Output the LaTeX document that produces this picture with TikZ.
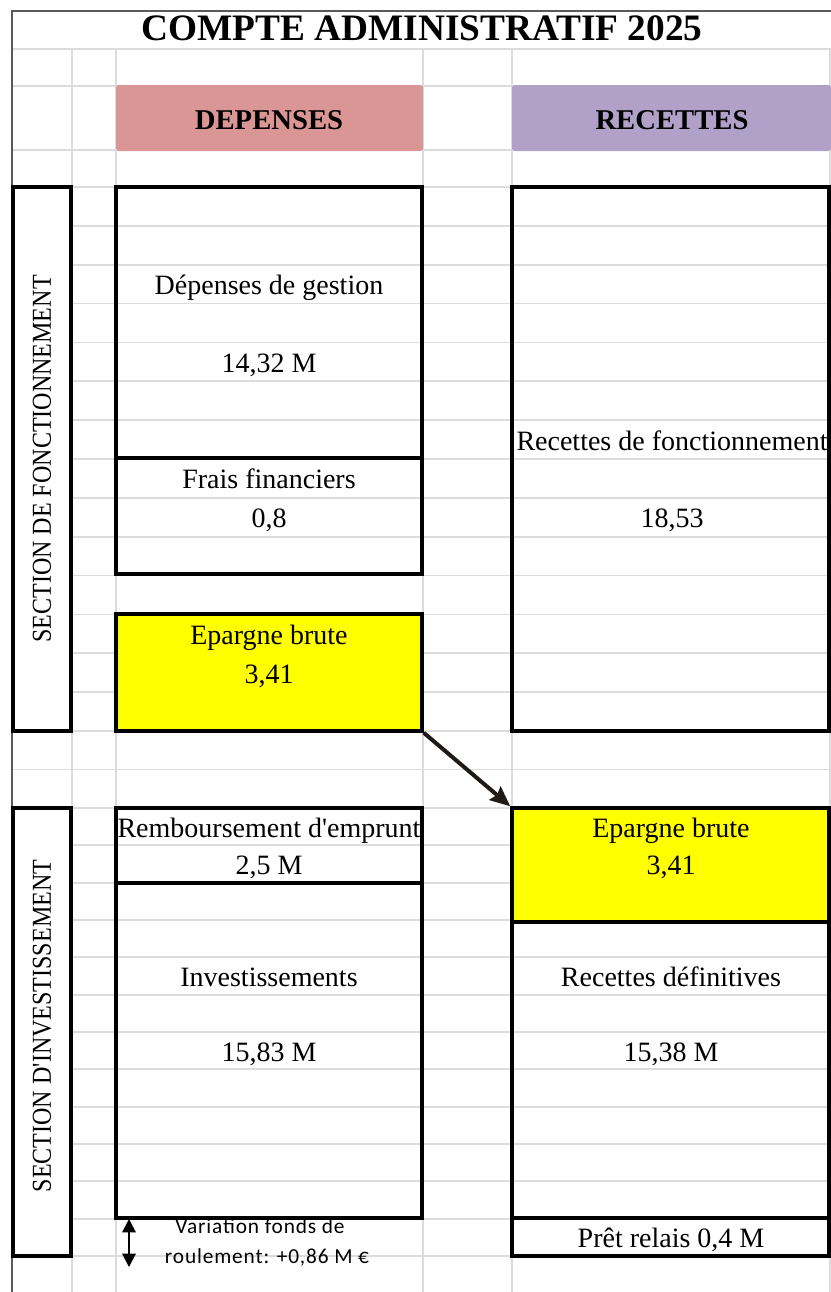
\documentclass[tikz,border=0pt]{standalone}
\usepackage{fontspec}
\setmainfont{Liberation Serif}
\newfontfamily\calib{Carlito}[LetterSpace=4]
\usepackage{tikz}
\usetikzlibrary{arrows.meta,fit}
\definecolor{depc}{HTML}{DA9694}
\definecolor{recc}{HTML}{B1A0C7}
\definecolor{jaune}{HTML}{FFFF00}
\definecolor{gridc}{HTML}{DCDCDC}
\definecolor{framec}{HTML}{5A5A5A}
\definecolor{arrc}{HTML}{1F1A17}
\tikzset{
  cell/.style={draw,line width=2.6pt,inner sep=0pt},
  yel/.style={cell,fill=jaune},
  sec/.style={cell,fill=white},
  head/.style={rounded corners=2pt,inner sep=0pt},
  txt/.style={anchor=base,inner sep=0pt,font=\fontsize{21}{25}\selectfont},
  ttl/.style={anchor=base,inner sep=0pt,font=\fontsize{28}{32}\selectfont\bfseries},
  htxt/.style={anchor=base,inner sep=0pt,font=\fontsize{21.5}{26}\selectfont\bfseries},
  sectxt/.style={rotate=90,inner sep=0pt,font=\fontsize{20.5}{24}\selectfont},
  vtxt/.style={anchor=base,inner sep=0pt,font=\calib\fontsize{16}{19}\selectfont},
  ar/.style={-{Stealth[length=15pt,width=13pt,inset=2pt]},line width=3pt,arrc},
  dar/.style={{Triangle[length=10pt,width=10pt]}-{Triangle[length=10pt,width=10pt]},line width=1.5pt}
}

\begin{document}
\begin{tikzpicture}[x=0.75pt,y=-0.75pt]
\useasboundingbox (0,0) rectangle (831,1292);
% grille du tableur
\foreach \yy in {49,86,150,769.5}
  \draw[gridc,line width=1.3pt] (12,\yy) -- (831,\yy);
\foreach \k in {0,...,14}
  \draw[gridc,line width=1.3pt] (12,{187+38.86*\k}) -- (831,{187+38.86*\k});
\foreach \k in {0,...,12}
  \draw[gridc,line width=1.3pt] (12,{808+37.33*\k}) -- (831,{808+37.33*\k});
\foreach \xx in {72,116,423,512,830}
  \draw[gridc,line width=1.3pt] (\xx,49) -- (\xx,1292);
\draw[framec,line width=1.5pt] (12,1292) -- (12,11) -- (831,11);

\node[ttl] (titre) at (422,40) {COMPTE ADMINISTRATIF 2025};
\node[head,fill=depc,fit={(116,85) (423,151)}] (hdep) {};
\node[head,fill=recc,fit={(512,85) (831,151)}] (hrec) {};
\node[htxt] (tdep) at (269,129) {DEPENSES};
\node[htxt] (trec) at (672,129) {RECETTES};

% section de fonctionnement
\node[sec,fit={(13,187) (71,731)}] (secf) {};
\node[sectxt] (tsecf) at (secf.center) {\scalebox{0.88}[1]{SECTION DE FONCTIONNEMENT}};
\node[cell,fit={(116,187) (422,458)}] (gest) {};
\node[cell,fit={(116,458) (422,574)}] (frais) {};
\node[yel,fit={(116,614) (422,731)}] (epf) {};
\node[cell,fit={(512,187) (829,731)}] (recf) {};
\node[txt] (tgest) at (269,294) {Dépenses de gestion};
\node[txt] (vgest) at (269,372) {14,32 M};
\node[txt] (tfrais) at (269,488.5) {Frais financiers};
\node[txt] (vfrais) at (269,527) {0,8};
\node[txt] (tepf) at (269,644) {Epargne brute};
\node[txt] (vepf) at (269,683) {3,41};
\node[txt] (trecf) at (672,450) {Recettes de fonctionnement};
\node[txt] (vrecf) at (672,527) {18,53};

% section d'investissement
\node[sec,fit={(13,808) (71,1256)}] (seci) {};
\node[sectxt] (tseci) at (42,1026) {\scalebox{0.88}[1]{SECTION D\textquotesingle INVESTISSEMENT}};
\node[cell,fit={(116,808) (422,883)}] (remb) {};
\node[cell,fit={(116,883) (422,1218)}] (inv) {};
\node[yel,fit={(512,808) (829,922)}] (epi) {};
\node[cell,fit={(512,922) (829,1218)}] (recd) {};
\node[cell,fit={(512,1218) (829,1256)}] (pret) {};
\node[txt] (tremb) at (269,837) {Remboursement d\textquotesingle emprunt};
\node[txt] (vremb) at (269,874) {2,5 M};
\node[txt] (tinv) at (269,986) {Investissements};
\node[txt] (vinv) at (269,1061) {15,83 M};
\node[txt] (tepi) at (671,837) {Epargne brute};
\node[txt] (vepi) at (671,874) {3,41};
\node[txt] (trecd) at (671,986) {Recettes définitives};
\node[txt] (vrecd) at (671,1061) {15,38 M};
\node[txt] (tpret) at (671,1247) {Prêt relais 0,4 M};

\draw[ar] (epf.south east) -- (epi.north west);

\coordinate (vhaut) at (129,1219);
\coordinate (vbas) at (129,1267);
\draw[dar] (vhaut) -- (vbas);
\node[vtxt] (var1) at (260,1233) {Variation fonds de};
\node[vtxt] (var2) at (267,1263) {roulement: +0,86 M €};
\end{tikzpicture}
\end{document}
